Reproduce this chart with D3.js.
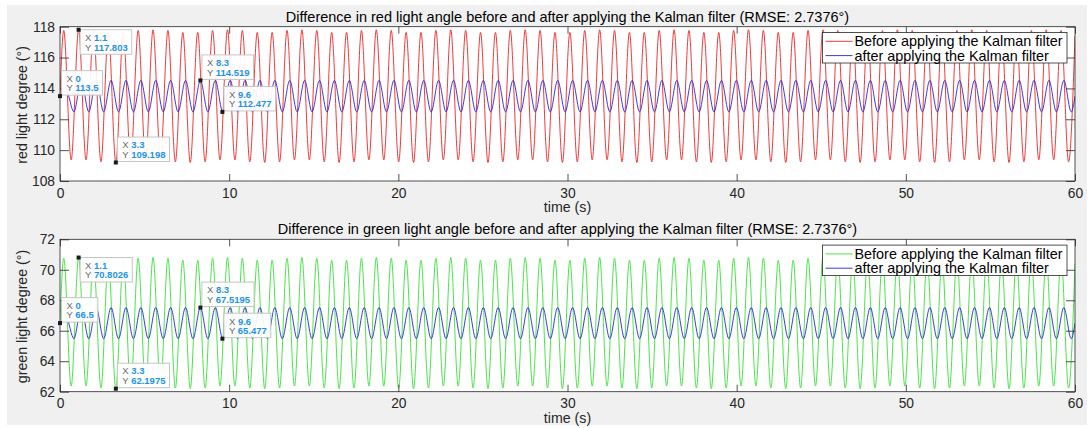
<!DOCTYPE html>
<html>
<head>
<meta charset="utf-8">
<script src="https://cdn.jsdelivr.net/npm/d3@7"></script>
<style>
body{margin:0;background:#fff;}
text{font-family:"Liberation Sans",Arial,Helvetica,sans-serif;}
</style>
</head>
<body>
<svg id="fig"></svg>
<script>
// extrema times of the raw signal (s)
var timesBefore = [0,
 0.22, 0.66, 1.10, 1.54, 1.98, 2.42, 2.86, 3.30, 3.74, 4.18,
 4.62, 5.06, 5.50, 5.94, 6.38, 6.82, 7.26, 7.70, 8.14, 8.58,
 9.02, 9.46, 9.90, 10.34, 10.78, 11.22, 11.66, 12.10, 12.54, 12.98,
 13.42, 13.86, 14.30, 14.74, 15.18, 15.62, 16.06, 16.50, 16.94, 17.38,
 17.82, 18.26, 18.70, 19.14, 19.58, 20.02, 20.46, 20.90, 21.34, 21.78,
 22.22, 22.66, 23.10, 23.54, 23.98, 24.42, 24.86, 25.30, 25.74, 26.18,
 26.62, 27.06, 27.50, 27.94, 28.38, 28.82, 29.26, 29.70, 30.14, 30.58,
 31.02, 31.46, 31.90, 32.34, 32.78, 33.22, 33.66, 34.10, 34.54, 34.98,
 35.42, 35.86, 36.30, 36.74, 37.18, 37.62, 38.06, 38.50, 38.94, 39.38,
 39.82, 40.26, 40.70, 41.14, 41.58, 42.02, 42.46, 42.90, 43.34, 43.78,
 44.22, 44.66, 45.10, 45.54, 45.98, 46.42, 46.86, 47.30, 47.74, 48.18,
 48.62, 49.06, 49.50, 49.94, 50.38, 50.82, 51.26, 51.70, 52.14, 52.58,
 53.02, 53.46, 53.90, 54.34, 54.78, 55.22, 55.66, 56.10, 56.54, 56.98,
 57.42, 57.86, 58.30, 58.74, 59.18, 59.62,
 60];

// extrema times of the filtered signal (s)
var timesAfter = [0,
 0.38, 0.82, 1.26, 1.70, 2.14, 2.58, 3.02, 3.46, 3.90, 4.34,
 4.78, 5.22, 5.66, 6.10, 6.54, 6.98, 7.42, 7.86, 8.30, 8.74,
 9.18, 9.62, 10.06, 10.50, 10.94, 11.38, 11.82, 12.26, 12.70, 13.14,
 13.58, 14.02, 14.46, 14.90, 15.34, 15.78, 16.22, 16.66, 17.10, 17.54,
 17.98, 18.42, 18.86, 19.30, 19.74, 20.18, 20.62, 21.06, 21.50, 21.94,
 22.38, 22.82, 23.26, 23.70, 24.14, 24.58, 25.02, 25.46, 25.90, 26.34,
 26.78, 27.22, 27.66, 28.10, 28.54, 28.98, 29.42, 29.86, 30.30, 30.74,
 31.18, 31.62, 32.06, 32.50, 32.94, 33.38, 33.82, 34.26, 34.70, 35.14,
 35.58, 36.02, 36.46, 36.90, 37.34, 37.78, 38.22, 38.66, 39.10, 39.54,
 39.98, 40.42, 40.86, 41.30, 41.74, 42.18, 42.62, 43.06, 43.50, 43.94,
 44.38, 44.82, 45.26, 45.70, 46.14, 46.58, 47.02, 47.46, 47.90, 48.34,
 48.78, 49.22, 49.66, 50.10, 50.54, 50.98, 51.42, 51.86, 52.30, 52.74,
 53.18, 53.62, 54.06, 54.50, 54.94, 55.38, 55.82, 56.26, 56.70, 57.14,
 57.58, 58.02, 58.46, 58.90, 59.34, 59.78,
 60];

var redBefore = [113.5,
 117.76, 109.37, 117.80, 109.37, 117.76, 109.24, 117.63, 109.20, 117.63, 109.24,
 117.76, 109.37, 117.80, 109.37, 117.76, 109.24, 117.63, 109.20, 117.63, 109.24,
 117.76, 109.37, 117.80, 109.37, 117.76, 109.24, 117.63, 109.20, 117.63, 109.24,
 117.76, 109.37, 117.80, 109.37, 117.76, 109.24, 117.63, 109.20, 117.63, 109.24,
 117.76, 109.37, 117.80, 109.37, 117.76, 109.24, 117.63, 109.20, 117.63, 109.24,
 117.76, 109.37, 117.80, 109.37, 117.76, 109.24, 117.63, 109.20, 117.63, 109.24,
 117.76, 109.37, 117.80, 109.37, 117.76, 109.24, 117.63, 109.20, 117.63, 109.24,
 117.76, 109.37, 117.80, 109.37, 117.76, 109.24, 117.63, 109.20, 117.63, 109.24,
 117.76, 109.37, 117.80, 109.37, 117.76, 109.24, 117.63, 109.20, 117.63, 109.24,
 117.76, 109.37, 117.80, 109.37, 117.76, 109.24, 117.63, 109.20, 117.63, 109.24,
 117.76, 109.37, 117.80, 109.37, 117.76, 109.24, 117.63, 109.20, 117.63, 109.24,
 117.76, 109.37, 117.80, 109.37, 117.76, 109.24, 117.63, 109.20, 117.63, 109.24,
 117.76, 109.37, 117.80, 109.37, 117.76, 109.24, 117.63, 109.20, 117.63, 109.24,
 117.76, 109.37, 117.80, 109.37, 117.76, 109.24,
 117.41];

var redAfter = [113.5,
 113.80, 112.48, 114.52, 112.48, 114.52, 112.48, 114.52, 112.48, 114.52, 112.48,
 114.52, 112.48, 114.52, 112.48, 114.52, 112.48, 114.52, 112.48, 114.52, 112.48,
 114.52, 112.48, 114.52, 112.48, 114.52, 112.48, 114.52, 112.48, 114.52, 112.48,
 114.52, 112.48, 114.52, 112.48, 114.52, 112.48, 114.52, 112.48, 114.52, 112.48,
 114.52, 112.48, 114.52, 112.48, 114.52, 112.48, 114.52, 112.48, 114.52, 112.48,
 114.52, 112.48, 114.52, 112.48, 114.52, 112.48, 114.52, 112.48, 114.52, 112.48,
 114.52, 112.48, 114.52, 112.48, 114.52, 112.48, 114.52, 112.48, 114.52, 112.48,
 114.52, 112.48, 114.52, 112.48, 114.52, 112.48, 114.52, 112.48, 114.52, 112.48,
 114.52, 112.48, 114.52, 112.48, 114.52, 112.48, 114.52, 112.48, 114.52, 112.48,
 114.52, 112.48, 114.52, 112.48, 114.52, 112.48, 114.52, 112.48, 114.52, 112.48,
 114.52, 112.48, 114.52, 112.48, 114.52, 112.48, 114.52, 112.48, 114.52, 112.48,
 114.52, 112.48, 114.52, 112.48, 114.52, 112.48, 114.52, 112.48, 114.52, 112.48,
 114.52, 112.48, 114.52, 112.48, 114.52, 112.48, 114.52, 112.48, 114.52, 112.48,
 114.52, 112.48, 114.52, 112.48, 114.52, 112.48,
 113.5];

var greenBefore = [66.5,
 70.76, 62.37, 70.80, 62.37, 70.76, 62.24, 70.63, 62.20, 70.63, 62.24,
 70.76, 62.37, 70.80, 62.37, 70.76, 62.24, 70.63, 62.20, 70.63, 62.24,
 70.76, 62.37, 70.80, 62.37, 70.76, 62.24, 70.63, 62.20, 70.63, 62.24,
 70.76, 62.37, 70.80, 62.37, 70.76, 62.24, 70.63, 62.20, 70.63, 62.24,
 70.76, 62.37, 70.80, 62.37, 70.76, 62.24, 70.63, 62.20, 70.63, 62.24,
 70.76, 62.37, 70.80, 62.37, 70.76, 62.24, 70.63, 62.20, 70.63, 62.24,
 70.76, 62.37, 70.80, 62.37, 70.76, 62.24, 70.63, 62.20, 70.63, 62.24,
 70.76, 62.37, 70.80, 62.37, 70.76, 62.24, 70.63, 62.20, 70.63, 62.24,
 70.76, 62.37, 70.80, 62.37, 70.76, 62.24, 70.63, 62.20, 70.63, 62.24,
 70.76, 62.37, 70.80, 62.37, 70.76, 62.24, 70.63, 62.20, 70.63, 62.24,
 70.76, 62.37, 70.80, 62.37, 70.76, 62.24, 70.63, 62.20, 70.63, 62.24,
 70.76, 62.37, 70.80, 62.37, 70.76, 62.24, 70.63, 62.20, 70.63, 62.24,
 70.76, 62.37, 70.80, 62.37, 70.76, 62.24, 70.63, 62.20, 70.63, 62.24,
 70.76, 62.37, 70.80, 62.37, 70.76, 62.24,
 70.41];

var greenAfter = [66.5,
 66.80, 65.48, 67.52, 65.48, 67.52, 65.48, 67.52, 65.48, 67.52, 65.48,
 67.52, 65.48, 67.52, 65.48, 67.52, 65.48, 67.52, 65.48, 67.52, 65.48,
 67.52, 65.48, 67.52, 65.48, 67.52, 65.48, 67.52, 65.48, 67.52, 65.48,
 67.52, 65.48, 67.52, 65.48, 67.52, 65.48, 67.52, 65.48, 67.52, 65.48,
 67.52, 65.48, 67.52, 65.48, 67.52, 65.48, 67.52, 65.48, 67.52, 65.48,
 67.52, 65.48, 67.52, 65.48, 67.52, 65.48, 67.52, 65.48, 67.52, 65.48,
 67.52, 65.48, 67.52, 65.48, 67.52, 65.48, 67.52, 65.48, 67.52, 65.48,
 67.52, 65.48, 67.52, 65.48, 67.52, 65.48, 67.52, 65.48, 67.52, 65.48,
 67.52, 65.48, 67.52, 65.48, 67.52, 65.48, 67.52, 65.48, 67.52, 65.48,
 67.52, 65.48, 67.52, 65.48, 67.52, 65.48, 67.52, 65.48, 67.52, 65.48,
 67.52, 65.48, 67.52, 65.48, 67.52, 65.48, 67.52, 65.48, 67.52, 65.48,
 67.52, 65.48, 67.52, 65.48, 67.52, 65.48, 67.52, 65.48, 67.52, 65.48,
 67.52, 65.48, 67.52, 65.48, 67.52, 65.48, 67.52, 65.48, 67.52, 65.48,
 67.52, 65.48, 67.52, 65.48, 67.52, 65.48,
 66.5];

// data tips
var tipX = [0, 1.1, 3.3, 8.3, 9.6];
var tipLabelsRed = ["113.5", "117.803", "109.198", "114.519", "112.477"];
var tipLabelsGreen = ["66.5", "70.8026", "62.1975", "67.5195", "65.477"];
var tipBelow = [false, true, false, false, false];

var xTicks = [0, 10, 20, 30, 40, 50, 60];
var yTicksRed = [108, 110, 112, 114, 116, 118];
var yTicksGreen = [62, 64, 66, 68, 70, 72];

var legendLabels = ["Before applying the Kalman filter", "after applying the Kalman filter"];

var panels = [
  {title: "Difference in red light angle before and after applying the Kalman filter (RMSE: 2.7376\u00b0)",
   ylabel: "red light degree (\u00b0)", ticks: yTicksRed, y0: 26.7, y1: 181,
   before: redBefore, after: redAfter, tips: tipLabelsRed, color: "#ee2222"},
  {title: "Difference in green light angle before and after applying the Kalman filter (RMSE: 2.7376\u00b0)",
   ylabel: "green light degree (\u00b0)", ticks: yTicksGreen, y0: 239.3, y1: 391.7,
   before: greenBefore, after: greenAfter, tips: tipLabelsGreen, color: "#33e233"}
];

var W = 1091, H = 428;
var svg = d3.select("#fig").attr("width", W).attr("height", H);
svg.append("rect").attr("width", W).attr("height", H).attr("fill", "#fff");
svg.append("rect").attr("x", 7).attr("y", 5).attr("width", 1080).attr("height", 420).attr("fill", "#f0f0f0");

var x = d3.scaleLinear().domain([0, 60]).range([60, 1075]);
var axisCol = "#262626";
var blueCol = "#2424d6";

panels.forEach(function(p, pi){
	var y = d3.scaleLinear().domain([p.ticks[0], p.ticks[p.ticks.length-1]]).range([p.y1, p.y0]);
	var g = svg.append("g");

	g.append("rect").attr("x", 60).attr("y", p.y0).attr("width", 1015).attr("height", p.y1-p.y0).attr("fill", "#fff");

	g.append("clipPath").attr("id", "clip"+pi)
		.append("rect").attr("x", 60).attr("y", p.y0).attr("width", 1015).attr("height", p.y1-p.y0);

	var lineB = d3.line().curve(d3.curveMonotoneX)
		.x(function(d,i){ return x(timesBefore[i]); })
		.y(function(d){ return y(d); });
	var lineA = d3.line().curve(d3.curveMonotoneX)
		.x(function(d,i){ return x(timesAfter[i]); })
		.y(function(d){ return y(d); });

	var lines = g.append("g").attr("clip-path", "url(#clip"+pi+")");
	lines.append("path").datum(p.before).attr("fill", "none").attr("stroke", p.color).attr("stroke-width", 0.9).attr("d", lineB);
	lines.append("path").datum(p.after).attr("fill", "none").attr("stroke", blueCol).attr("stroke-width", 0.9).attr("d", lineA);

	// axes, ticks inside like matlab
	var ax = g.append("g").attr("transform", "translate(0,"+p.y1+")")
		.call(d3.axisBottom(x).tickValues(xTicks).tickSize(-7).tickSizeOuter(0).tickPadding(7));
	var axT = g.append("g").attr("transform", "translate(0,"+p.y0+")")
		.call(d3.axisTop(x).tickValues(xTicks).tickSize(-7).tickSizeOuter(0).tickFormat(""));
	var ay = g.append("g").attr("transform", "translate(60,0)")
		.call(d3.axisLeft(y).tickValues(p.ticks).tickSize(-9).tickSizeOuter(0).tickPadding(5));
	var ayR = g.append("g").attr("transform", "translate(1075,0)")
		.call(d3.axisRight(y).tickValues(p.ticks).tickSize(-9).tickSizeOuter(0).tickFormat(""));
	[ax, axT, ay, ayR].forEach(function(a){
		a.select(".domain").remove();
		a.selectAll(".tick line").attr("stroke", axisCol).attr("stroke-width", 0.8);
		a.selectAll(".tick text").attr("fill", axisCol).attr("font-size", 13.8)
			.attr("font-family", "\"Liberation Sans\",Arial,sans-serif");
	});
	g.append("rect").attr("x", 60).attr("y", p.y0).attr("width", 1015).attr("height", p.y1-p.y0)
		.attr("fill", "none").attr("stroke", axisCol).attr("stroke-width", 0.8);

	g.append("text").attr("x", 567.5).attr("y", p.y0-5).attr("text-anchor", "middle")
		.attr("font-size", 14.5).attr("fill", "#000").text(p.title);
	g.append("text").attr("x", 567.5).attr("y", p.y1+31).attr("text-anchor", "middle")
		.attr("font-size", 14.2).attr("fill", axisCol).text("time (s)");
	g.append("text").attr("transform", "translate(26.5,"+((p.y0+p.y1)/2+1)+") rotate(-90)")
		.attr("text-anchor", "middle").attr("font-size", 14.2).attr("fill", axisCol).text(p.ylabel);

	// legend
	var lg = g.append("g").attr("transform", "translate(822.5,"+(p.y0+5.8)+")");
	lg.append("rect").attr("width", 244.5).attr("height", 30.5).attr("fill", "#fff")
		.attr("stroke", axisCol).attr("stroke-width", 0.8);
	legendLabels.forEach(function(t, i){
		lg.append("line").attr("x1", 3).attr("x2", 30).attr("y1", 8.8+i*14.3).attr("y2", 8.8+i*14.3)
			.attr("stroke", i==0 ? p.color : blueCol).attr("stroke-width", 0.9);
		lg.append("text").attr("x", 32).attr("y", 13.8+i*14.3).attr("font-size", 14.4).attr("fill", "#000").text(t);
	});

	// data tips
	tipX.forEach(function(tx, i){
		var vy = +p.tips[i];
		var px = x(tx), py = y(vy);
		var tg = g.append("g");
		var top = tipBelow[i] ? py : py-25.5;
		var box = tg.append("rect").attr("x", px+1.5).attr("y", top).attr("height", 24.5)
			.attr("fill", "#ffffff").attr("fill-opacity", 0.93).attr("stroke", "#c4c4c4").attr("stroke-width", 1);
		var t1 = tg.append("text").attr("x", px+6.5).attr("y", top+11.3).attr("font-size", 9.5);
		t1.append("tspan").attr("fill", "#6a6a6a").text("X ");
		t1.append("tspan").attr("fill", "#1e93e6").attr("font-weight", "bold").text(String(tx));
		var t2 = tg.append("text").attr("x", px+6.5).attr("y", top+20.8).attr("font-size", 9.5);
		t2.append("tspan").attr("fill", "#6a6a6a").text("Y ");
		t2.append("tspan").attr("fill", "#1e93e6").attr("font-weight", "bold").text(p.tips[i]);
		var w = Math.max(t1.node().getComputedTextLength(), t2.node().getComputedTextLength());
		box.attr("width", w+9);
		tg.append("rect").attr("x", px-2).attr("y", py-2).attr("width", 4).attr("height", 4).attr("fill", "#1a1a1a");
	});
});
</script>
</body>
</html>
